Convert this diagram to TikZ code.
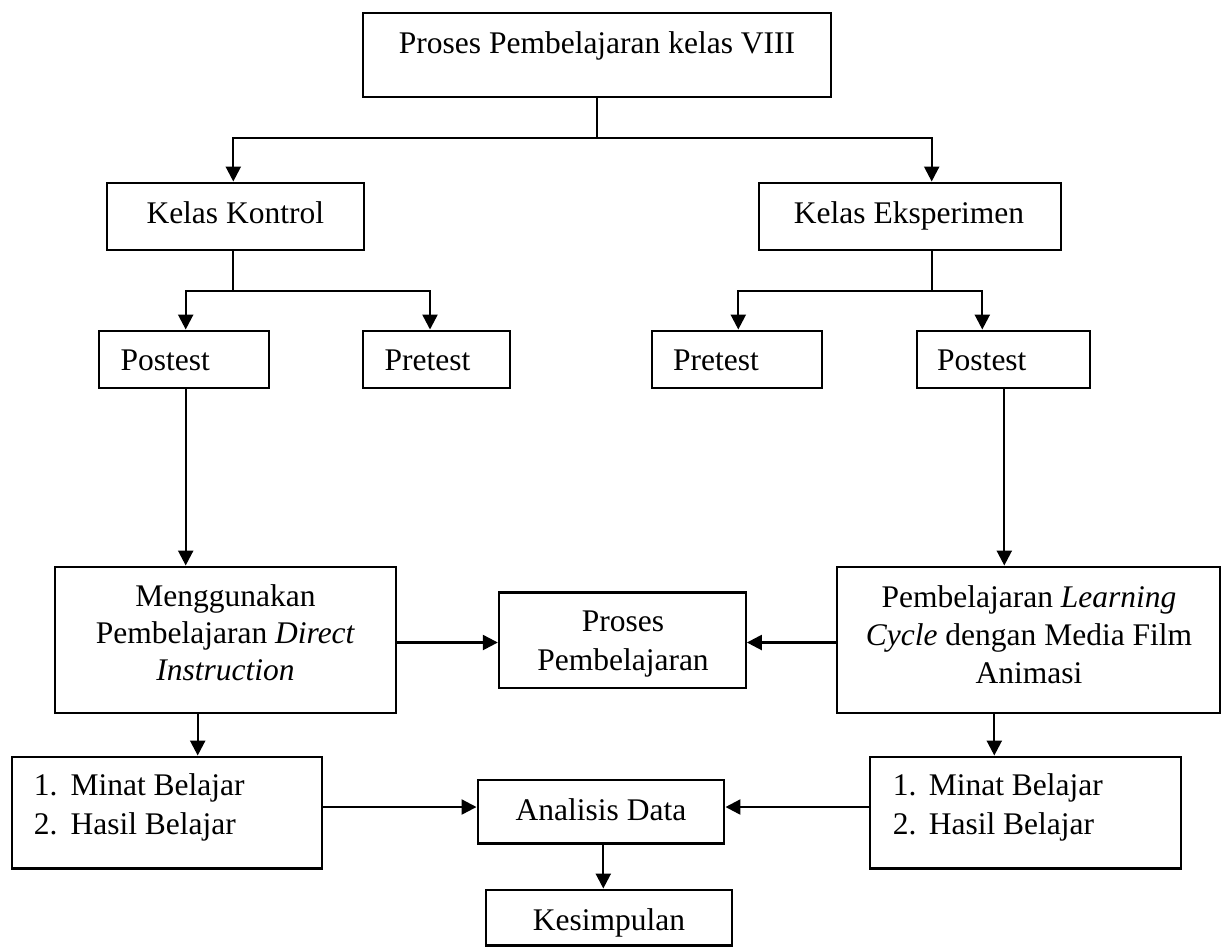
\documentclass[tikz,border=0pt]{standalone}
\usepackage{fontspec}
\setmainfont{Liberation Serif}
\usetikzlibrary{arrows.meta,fit}
\begin{document}
\begin{tikzpicture}[x=0.381pt,y=-0.381pt,
  box/.style={draw, line width=0.9pt, inner sep=0pt},
  txt/.style={font=\fontsize{12}{14}\selectfont, inner sep=0pt, anchor=base},
  txl/.style={txt, anchor=base west},
  conn/.style={line width=0.9pt},
  arr/.style={conn, -{Triangle[length=5.7pt,width=5.7pt]}}]
\useasboundingbox (0,0) rectangle (1222,949);

% boxes
\node[box, fit={(363,13.3) (831,96.7)}] (title) {};
\node[box, fit={(106.7,182.7) (364,250)}] (kk) {};
\node[box, fit={(759.3,182.7) (1060.7,250)}] (ke) {};
\node[box, fit={(99,330.7) (269,388.3)}] (po1) {};
\node[box, fit={(363.3,330.7) (510,388.3)}] (pr1) {};
\node[box, fit={(652.3,330.7) (821.7,388.3)}] (pr2) {};
\node[box, fit={(916.7,330.7) (1090,388.3)}] (po2) {};
\node[box, fit={(55,566.7) (396,712.7)}] (mg) {};
\node[box, fit={(499,592.3) (745.7,688)}] (proc) {};
\node[box, fit={(837.3,566.7) (1220,712.7)}] (lc) {};
\node[box, fit={(11.7,756.7) (321.7,868.3)}] (ml) {};
\node[box, fit={(870,756.7) (1180.7,868.3)}] (mr) {};
\node[box, fit={(477.7,780) (724.3,843.3)}] (an) {};
\node[box, fit={(485.7,889.7) (732.3,945.5)}] (ks) {};

% texts
\node[txt] (t-title) at (597,53) {Proses Pembelajaran kelas VIII};
\node[txt] (t-kk) at (235.3,223) {Kelas Kontrol};
\node[txt] (t-ke) at (909,223) {Kelas Eksperimen};
\node[txl] (t-po1) at (120,370) {Postest};
\node[txl] (t-pr1) at (384,370) {Pretest};
\node[txl] (t-pr2) at (672.7,370) {Pretest};
\node[txl] (t-po2) at (936.7,370) {Postest};
\node[txt] (t-mg1) at (225.5,606.7) {Menggunakan};
\node[txt] (t-mg2) at (225.5,643.5) {Pembelajaran \textit{Direct}};
\node[txt] (t-mg3) at (225.5,680.7) {\textit{Instruction}};
\node[txt] (t-pp1) at (623,631.7) {Proses};
\node[txt] (t-pp2) at (623,670) {Pembelajaran};
\node[txt] (t-lc1) at (1029,607.3) {Pembelajaran \textit{Learning}};
\node[txt] (t-lc2) at (1029,645) {\textit{Cycle} dengan Media Film};
\node[txt] (t-lc3) at (1029,683) {Animasi};
\node[txl] (t-ml1n) at (33.3,795) {1.};
\node[txl] (t-ml1) at (70,795) {Minat Belajar};
\node[txl] (t-ml2n) at (33.3,834) {2.};
\node[txl] (t-ml2) at (70,834) {Hasil Belajar};
\node[txl] (t-mr1n) at (892.3,795) {1.};
\node[txl] (t-mr1) at (928.3,795) {Minat Belajar};
\node[txl] (t-mr2n) at (892.3,834) {2.};
\node[txl] (t-mr2) at (928.3,834) {Hasil Belajar};
\node[txt] (t-an) at (601,820) {Analisis Data};
\node[txt] (t-ks) at (609,930) {Kesimpulan};

% connector coordinates
\coordinate (b0) at (597,138.3);
\coordinate (bl) at (233.3,138.3);
\coordinate (br) at (931.7,138.3);
\coordinate (k0) at (233.3,291);
\coordinate (kl) at (185.7,291);
\coordinate (kr) at (430,291);
\coordinate (e0) at (931.7,291);
\coordinate (el) at (738.3,291);
\coordinate (er) at (982.3,291);
\coordinate (p2x) at (1004.3,0);
\coordinate (mgx) at (197.7,0);
\coordinate (lcx) at (994.3,0);
\coordinate (anx) at (603.3,0);
\coordinate (ym) at (0,642.5);
\coordinate (yl) at (0,807);

% connectors
\draw[conn] (title.south -| b0) -- (b0);
\draw[arr] (b0) -- (bl) -- (bl |- kk.north);
\draw[arr] (b0) -- (br) -- (br |- ke.north);
\draw[conn] (kk.south -| k0) -- (k0);
\draw[arr] (k0) -- (kl) -- (kl |- po1.north);
\draw[arr] (k0) -- (kr) -- (kr |- pr1.north);
\draw[conn] (ke.south -| e0) -- (e0);
\draw[arr] (e0) -- (el) -- (el |- pr2.north);
\draw[arr] (e0) -- (er) -- (er |- po2.north);
\draw[arr] (kl |- po1.south) -- (kl |- mg.north);
\draw[arr] (p2x |- po2.south) -- (p2x |- lc.north);
\draw[arr] (mg.east |- ym) -- (proc.west |- ym);
\draw[arr] (lc.west |- ym) -- (proc.east |- ym);
\draw[arr] (mgx |- mg.south) -- (mgx |- ml.north);
\draw[arr] (lcx |- lc.south) -- (lcx |- mr.north);
\draw[arr] (ml.east |- yl) -- (an.west |- yl);
\draw[arr] (mr.west |- yl) -- (an.east |- yl);
\draw[arr] (anx |- an.south) -- (anx |- ks.north);
\end{tikzpicture}
\end{document}
